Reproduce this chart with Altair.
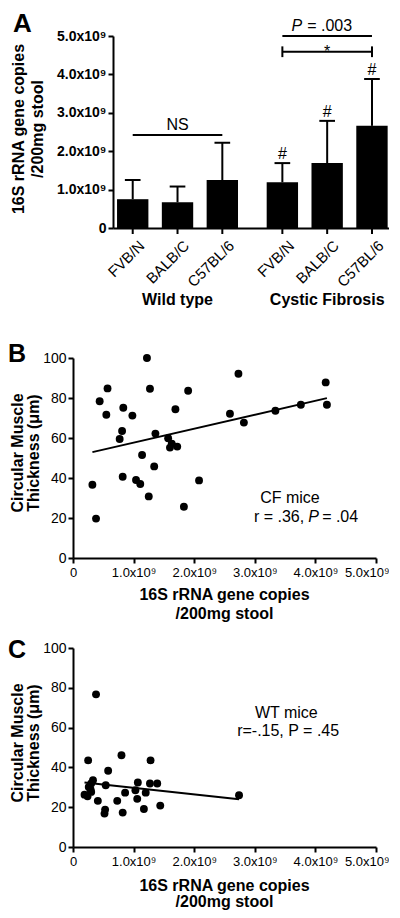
import altair as alt
import pandas as pd

FONT = "Liberation Sans"

# ---------------- Panel A data ----------------
strains = ["FVB/N", "BALB/C", "C57BL/6", "FVB/N", "BALB/C", "C57BL/6"]
groups = ["Wild type", "Wild type", "Wild type",
          "Cystic Fibrosis", "Cystic Fibrosis", "Cystic Fibrosis"]
slots = [0, 1, 2, 3, 4, 5]
copies_mean = [0.75e9, 0.67e9, 1.25e9, 1.19e9, 1.69e9, 2.66e9]
copies_sd = [0.50e9, 0.41e9, 0.97e9, 0.50e9, 1.10e9, 1.22e9]
hash_marks = ["", "", "", "#", "#", "#"]

# significance brackets (slot from, slot to, height)
br_from = [0, 3, 3]
br_to = [2, 5, 5]
br_y = [2.42e9, 4.59e9, 5.0e9]
br_label = ["NS", "*", "P = .003"]
br_ends = [0, 1, 0]

# ---------------- Panel B data (CF mice) ----------------
cf_x = [0.32, 0.38, 0.44, 0.57, 0.55, 0.83, 0.81, 0.77, 0.82, 0.98, 1.04,
        1.11, 1.14, 1.22, 1.27, 1.25, 1.36, 1.34, 1.57, 1.63, 1.60, 1.72,
        1.69, 1.90, 1.83, 2.08, 2.59, 2.73, 2.82, 3.34, 3.76, 4.17, 4.19]
cf_y = [36.6, 19.7, 78.4, 84.8, 71.6, 75.1, 63.5, 59.5, 40.6, 71.2, 39.0,
        37.0, 51.5, 100.0, 84.6, 30.8, 62.2, 45.8, 59.9, 57.2, 55.2, 55.7,
        74.4, 83.6, 25.6, 38.8, 72.1, 92.1, 67.7, 73.6, 76.6, 87.8, 76.6]

# ---------------- Panel C data (WT mice) ----------------
wt_x = [0.38, 0.25, 0.19, 0.24, 0.29, 0.30, 0.33, 0.26, 0.30, 0.41, 0.58,
        0.54, 0.53, 0.52, 0.73, 0.80, 0.82, 0.86, 1.03, 1.07, 1.06, 1.17,
        1.20, 1.28, 1.27, 1.39, 1.44, 2.74]
wt_y = [76.7, 43.5, 26.3, 25.5, 28.9, 31.9, 33.6, 30.2, 27.7, 23.2, 38.3,
        31.0, 18.8, 16.8, 23.2, 46.1, 17.3, 27.3, 28.5, 32.4, 24.2, 19.1,
        27.3, 43.5, 31.9, 31.9, 20.8, 26.0]

panel_letters = ["A", "B", "C"]
cf_note = ["CF mice", "r = .36,", "P", "= .04"]
wt_note = ["WT mice", "r=-.15, P = .45"]
copies_title = ["16S rRNA gene copies", "/200mg stool"]
thick_title = ["Circular  Muscle", "Thickness  (\u03bcm)"]

LBL = "datum.value == 0 ? '0' : format(datum.value / 1e9, '.1f') + 'x10\u2079'"


def pos_expr(f):
    return f"datum.{f} + (datum.{f} >= 3 ? 0.34 : 0)"


def letter(ch, x, y, size):
    return alt.Chart(pd.DataFrame({"t": [ch]})).mark_text(
        font=FONT, fontSize=size, fontWeight="bold", align="left",
        baseline="top", color="black"
    ).encode(x=alt.value(x), y=alt.value(y), text="t:N")


def title_text(lines, xs, ys, angle):
    out = []
    for t, x, y in zip(lines, xs, ys):
        out.append(alt.Chart(pd.DataFrame({"t": [t]})).mark_text(
            font=FONT, fontSize=16, fontWeight="bold", align="center",
            baseline="middle", angle=angle, color="black"
        ).encode(x=alt.value(x), y=alt.value(y), text="t:N"))
    return out


# ================= Panel A =================
SHIFT = 40            # panel A's plot starts this far right of panels B/C
W_A, H_A = 276, 192
xsA = alt.Scale(domain=[-0.44, 5.72], nice=False, zero=False,
                range=[SHIFT, SHIFT + W_A])
ysA = alt.Scale(domain=[0, 5e9], nice=False)
x_axis_A = alt.Axis(labels=False, ticks=False, title=None, domainColor="black",
                    domainWidth=2, grid=False)
y_axis_A = alt.Axis(values=[0, 1e9, 2e9, 3e9, 4e9, 5e9], labelExpr=LBL,
                    labelFont=FONT, labelFontSize=14, labelFontWeight="bold",
                    labelColor="black", labelPadding=2, tickColor="black",
                    tickWidth=2, tickSize=5, domainColor="black", domainWidth=2,
                    grid=False, title=None, offset=-SHIFT)


def XA(f):
    return alt.X(f, scale=xsA, axis=x_axis_A)


def YA(f):
    return alt.Y(f, scale=ysA, axis=y_axis_A)


dfA = pd.DataFrame({"strain": strains, "group": groups, "slot": slots,
                    "mean": copies_mean, "sd": copies_sd, "hash": hash_marks})
baseA = alt.Chart(dfA).transform_calculate(pos=pos_expr("slot")).transform_calculate(
    xl="datum.pos - 0.35", xr="datum.pos + 0.35",
    cl="datum.pos - 0.175", cr="datum.pos + 0.175",
    top="datum.mean + datum.sd")

bars = baseA.mark_bar(color="black").encode(x=XA("xl:Q"), x2="xr:Q",
                                             y=YA("mean:Q"), y2=alt.datum(0))
err = baseA.mark_rule(color="black", strokeWidth=2).encode(
    x=XA("pos:Q"), y=YA("mean:Q"), y2="top:Q")
caps = baseA.mark_rule(color="black", strokeWidth=2).encode(
    x=XA("cl:Q"), x2="cr:Q", y=YA("top:Q"))
hashes = baseA.transform_filter("datum.hash != ''").mark_text(
    font=FONT, fontSize=16, dy=-4, baseline="alphabetic", color="black"
).encode(x=XA("pos:Q"), y=YA("top:Q"), text="hash:N")
xticks = baseA.mark_rule(color="black", strokeWidth=2).encode(
    x=XA("pos:Q"), y=alt.value(H_A), y2=alt.value(H_A + 6))
xlabels = baseA.mark_text(font=FONT, fontSize=15, angle=315, align="right",
                          baseline="middle", dy=13, color="black").encode(
    x=XA("pos:Q"), y=alt.value(H_A + 6), text="strain:N")
glabels = baseA.transform_aggregate(c="mean(pos)", groupby=["group"]).mark_text(
    font=FONT, fontSize=16, fontWeight="bold", baseline="middle", color="black"
).encode(x=XA("c:Q"), y=alt.value(264), text="group:N")

dfBr = pd.DataFrame({"f": br_from, "t": br_to, "y": br_y, "label": br_label,
                     "ends": br_ends})
baseBr = alt.Chart(dfBr).transform_calculate(
    xa=pos_expr("f"), xb=pos_expr("t")).transform_calculate(
    xm="(datum.xa + datum.xb) / 2", ylo="datum.y - 0.14e9", yhi="datum.y + 0.14e9")
br_lines = baseBr.mark_rule(color="black", strokeWidth=2).encode(
    x=XA("xa:Q"), x2="xb:Q", y=YA("y:Q"))
br_endticks = baseBr.transform_filter("datum.ends == 1").transform_fold(
    ["xa", "xb"], as_=["side", "xe"]).mark_rule(color="black", strokeWidth=2).encode(
    x=XA("xe:Q"), y=YA("ylo:Q"), y2="yhi:Q")
ns_text = baseBr.transform_filter("datum.label == 'NS'").mark_text(
    font=FONT, fontSize=16, dy=-5, baseline="alphabetic", color="black").encode(
    x=XA("xm:Q"), y=YA("y:Q"), text="label:N")
star_text = baseBr.transform_filter("datum.label == '*'").mark_text(
    font=FONT, fontSize=16, dy=5, baseline="alphabetic", color="black").encode(
    x=XA("xm:Q"), y=YA("y:Q"), text="label:N")
p_base = baseBr.transform_filter("indexof(datum.label, 'P') == 0").transform_calculate(
    p1="split(datum.label, ' ')[0]", p2="slice(datum.label, 2)")
p_text1 = p_base.mark_text(font=FONT, fontSize=16, fontStyle="italic", dy=-5, dx=-25,
                           align="right", baseline="alphabetic", color="black").encode(
    x=XA("xm:Q"), y=YA("y:Q"), text="p1:N")
p_text2 = p_base.mark_text(font=FONT, fontSize=16, dy=-5, dx=-20, align="left",
                           baseline="alphabetic", color="black").encode(
    x=XA("xm:Q"), y=YA("y:Q"), text="p2:N")

chartA = alt.layer(
    bars, err, caps, hashes, xticks, xlabels, glabels,
    br_lines, br_endticks, ns_text, star_text, p_text1, p_text2,
    letter(panel_letters[0], SHIFT - 100, -25, 26),
    *title_text(copies_title, [SHIFT - 94, SHIFT - 75], [93, 93], 270)
).properties(width=SHIFT + W_A, height=H_A)

LAST = "datum.value >= 4.9e9"


# ================= Panels B and C =================
def scatter_panel(xs, ys, W, H, notes, letter_ch, letter_y, xtitle_y):
    xsS = alt.Scale(domain=[0, 5e9], nice=False, zero=False)
    ysS = alt.Scale(domain=[0, 100], nice=False)
    x_axis = alt.Axis(values=[0, 1e9, 2e9, 3e9, 4e9, 5e9], labelExpr=LBL,
                      labelFont=FONT, labelFontSize=13, labelColor="black",
                      labelPadding=3, tickColor="black", tickWidth=2, tickSize=5,
                      domainColor="black", domainWidth=2, grid=False,
                      labelOverlap=False, title=None,
                      labelAlign={"condition": {"test": LAST, "value": "right"},
                                  "value": "center"},
                      labelOffset={"condition": {"test": LAST, "value": 13},
                                   "value": 0})
    y_axis = alt.Axis(values=[0, 20, 40, 60, 80, 100], labelFont=FONT,
                      labelFontSize=14, labelColor="black", labelPadding=2,
                      tickColor="black", tickWidth=2, tickSize=5,
                      domainColor="black", domainWidth=2, grid=False, title=None)

    def X(f):
        return alt.X(f, scale=xsS, axis=x_axis)

    def Y(f):
        return alt.Y(f, scale=ysS, axis=y_axis)

    df = pd.DataFrame({"x": [v * 1e9 for v in xs], "y": ys})
    pts = alt.Chart(df).mark_circle(size=62, color="black", opacity=1).encode(
        x=X("x:Q"), y=Y("y:Q"))
    fit = alt.Chart(df).transform_regression("x", "y").mark_line(
        color="black", strokeWidth=2).encode(x=X("x:Q"), y=Y("y:Q"))
    layers = [pts, fit]
    for t, nx, ny, style, align, dx in notes:
        layers.append(
            alt.Chart(pd.DataFrame({"x": [nx], "y": [ny], "t": [t]})).mark_text(
                font=FONT, fontSize=16, fontStyle=style, align=align, dx=dx,
                baseline="middle", color="black"
            ).encode(x=X("x:Q"), y=Y("y:Q"), text="t:N"))
    layers.append(letter(letter_ch, -65, letter_y, 25))
    layers += title_text(thick_title, [-55, -39], [95, 95], 270)
    layers += title_text(copies_title, [W / 2, W / 2], xtitle_y, 0)
    return alt.layer(*layers).properties(width=W, height=H)


notes_B = [
    (cf_note[0], 3.58e9, 30.0, "normal", "center", 0),
    (cf_note[1], 3.88e9, 20.5, "normal", "right", -4),
    (cf_note[2], 3.88e9, 20.5, "italic", "left", 0),
    (cf_note[3], 3.88e9, 20.5, "normal", "left", 14),
]
notes_C = [
    (wt_note[0], 3.52e9, 67.3, "normal", "center", 0),
    (wt_note[1], 3.55e9, 58.3, "normal", "center", 0),
]

chartB = scatter_panel(cf_x, cf_y, 303, 200, notes_B, panel_letters[1], -16, [237, 256])
chartC = scatter_panel(wt_x, wt_y, 303, 199, notes_C, panel_letters[2], -10, [238, 254])

bottom = alt.vconcat(chartB, chartC, spacing=16)
chart = alt.vconcat(chartA, bottom, spacing=34).properties(
    padding={"top": 3, "bottom": 0, "left": 0, "right": 0}
).configure(font=FONT).configure_view(stroke=None)

chart.save("out.html", embed_options={"renderer": "svg", "actions": False})
